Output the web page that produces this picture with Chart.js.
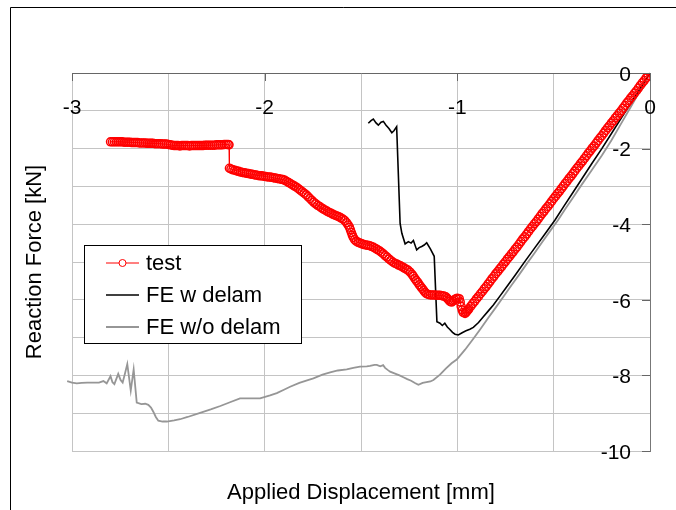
<!DOCTYPE html>
<html><head><meta charset="utf-8">
<script src="https://cdn.jsdelivr.net/npm/chart.js@4.4.1/dist/chart.umd.min.js"></script>
<style>html,body{margin:0;padding:0;background:#fff;overflow:hidden;} canvas{display:block;}</style>
</head><body>
<canvas id="c" width="676" height="510"></canvas>
<script>
// ---- data (x: displacement mm, y: reaction force kN) ----
const testPoints = [
[-2.80,-1.82],[-2.79,-1.82],[-2.78,-1.82],[-2.77,-1.82],[-2.76,-1.82],[-2.75,-1.82],[-2.74,-1.82],[-2.73,-1.83],
[-2.72,-1.83],[-2.71,-1.83],[-2.70,-1.83],[-2.69,-1.84],[-2.68,-1.84],[-2.67,-1.84],[-2.66,-1.84],[-2.65,-1.85],
[-2.64,-1.85],[-2.63,-1.85],[-2.62,-1.85],[-2.61,-1.86],[-2.60,-1.86],[-2.59,-1.86],[-2.58,-1.86],[-2.57,-1.87],
[-2.56,-1.87],[-2.55,-1.87],[-2.54,-1.87],[-2.53,-1.88],[-2.52,-1.88],[-2.51,-1.88],[-2.50,-1.89],[-2.49,-1.90],
[-2.48,-1.91],[-2.47,-1.92],[-2.46,-1.92],[-2.45,-1.92],[-2.44,-1.93],[-2.43,-1.92],[-2.42,-1.92],[-2.41,-1.92],
[-2.40,-1.92],[-2.39,-1.93],[-2.38,-1.92],[-2.37,-1.92],[-2.36,-1.92],[-2.35,-1.92],[-2.34,-1.92],[-2.33,-1.92],
[-2.32,-1.92],[-2.31,-1.91],[-2.30,-1.91],[-2.29,-1.91],[-2.28,-1.91],[-2.27,-1.91],[-2.26,-1.91],[-2.25,-1.90],
[-2.24,-1.90],[-2.23,-1.90],[-2.22,-1.90],[-2.21,-1.89],[-2.20,-1.89],[-2.19,-1.89],[-2.185,-1.90],
[-2.183,-2.52],[-2.175,-2.54],[-2.165,-2.56],[-2.155,-2.57],[-2.145,-2.59],[-2.135,-2.60],[-2.125,-2.62],[-2.115,-2.63],
[-2.105,-2.64],[-2.095,-2.65],[-2.085,-2.66],[-2.075,-2.67],[-2.065,-2.68],[-2.055,-2.69],[-2.045,-2.70],[-2.035,-2.71],
[-2.025,-2.72],[-2.015,-2.72],[-2.005,-2.73],[-1.995,-2.74],[-1.985,-2.75],[-1.975,-2.75],[-1.965,-2.76],[-1.955,-2.77],
[-1.945,-2.78],[-1.935,-2.79],[-1.925,-2.80],[-1.915,-2.81],[-1.905,-2.82],[-1.895,-2.84],[-1.885,-2.87],[-1.875,-2.90],
[-1.865,-2.93],[-1.855,-2.96],[-1.845,-2.99],[-1.835,-3.02],[-1.825,-3.06],[-1.815,-3.10],[-1.805,-3.14],[-1.795,-3.18],
[-1.785,-3.22],[-1.775,-3.27],[-1.765,-3.32],[-1.755,-3.37],[-1.745,-3.42],[-1.735,-3.46],[-1.725,-3.50],[-1.715,-3.53],
[-1.705,-3.57],[-1.695,-3.60],[-1.685,-3.63],[-1.675,-3.66],[-1.665,-3.69],[-1.655,-3.71],[-1.645,-3.74],[-1.635,-3.76],
[-1.625,-3.78],[-1.615,-3.80],[-1.605,-3.83],[-1.595,-3.86],[-1.585,-3.90],[-1.575,-3.96],[-1.567,-4.02],[-1.56,-4.08],
[-1.555,-4.15],[-1.55,-4.22],[-1.545,-4.29],[-1.54,-4.35],[-1.533,-4.41],[-1.525,-4.45],[-1.515,-4.48],[-1.505,-4.50],
[-1.495,-4.52],[-1.485,-4.54],[-1.475,-4.55],[-1.465,-4.56],[-1.455,-4.57],[-1.445,-4.59],[-1.435,-4.61],[-1.425,-4.64],
[-1.415,-4.67],[-1.405,-4.70],[-1.395,-4.74],[-1.385,-4.78],[-1.375,-4.83],[-1.365,-4.87],[-1.355,-4.92],[-1.345,-4.96],
[-1.335,-5.00],[-1.325,-5.03],[-1.315,-5.05],[-1.305,-5.08],[-1.295,-5.10],[-1.285,-5.13],[-1.275,-5.16],[-1.265,-5.19],
[-1.255,-5.22],[-1.245,-5.27],[-1.235,-5.33],[-1.228,-5.38],[-1.22,-5.44],[-1.213,-5.49],[-1.205,-5.54],[-1.198,-5.60],
[-1.19,-5.65],[-1.183,-5.70],[-1.175,-5.75],[-1.168,-5.80],[-1.16,-5.84],[-1.15,-5.86],[-1.14,-5.87],[-1.13,-5.87],
[-1.12,-5.87],[-1.11,-5.88],[-1.10,-5.88],[-1.09,-5.88],[-1.08,-5.89],[-1.07,-5.90],[-1.06,-5.92],[-1.052,-5.96],
[-1.045,-6.00],[-1.038,-6.04],[-1.03,-6.06],[-1.022,-6.03],[-1.015,-6.00],[-1.007,-5.97],[-1.00,-5.96],[-0.99,-5.97],
[-0.985,-6.06],[-0.98,-6.18],[-0.975,-6.27],[-0.97,-6.33],[-0.96,-6.36],[-0.955,-6.33],[-0.95,-6.30],[-0.945,-6.27],
[-0.94,-6.24],[-0.93,-6.17],[-0.92,-6.10],[-0.91,-6.04],[-0.90,-5.97],[-0.89,-5.91],[-0.88,-5.84],[-0.87,-5.78],
[-0.86,-5.71],[-0.85,-5.65],[-0.84,-5.58],[-0.83,-5.51],[-0.82,-5.44],[-0.81,-5.38],[-0.80,-5.31],[-0.79,-5.25],
[-0.78,-5.18],[-0.77,-5.12],[-0.76,-5.05],[-0.75,-4.99],[-0.74,-4.92],[-0.73,-4.86],[-0.72,-4.79],[-0.71,-4.73],
[-0.70,-4.66],[-0.69,-4.60],[-0.68,-4.53],[-0.67,-4.46],[-0.66,-4.39],[-0.65,-4.33],[-0.64,-4.26],[-0.63,-4.19],
[-0.62,-4.12],[-0.61,-4.06],[-0.60,-3.99],[-0.59,-3.93],[-0.58,-3.86],[-0.57,-3.79],[-0.56,-3.72],[-0.55,-3.66],
[-0.54,-3.59],[-0.53,-3.53],[-0.52,-3.46],[-0.51,-3.39],[-0.50,-3.32],[-0.49,-3.26],[-0.48,-3.19],[-0.47,-3.13],
[-0.46,-3.06],[-0.45,-2.99],[-0.44,-2.92],[-0.43,-2.86],[-0.42,-2.79],[-0.41,-2.73],[-0.40,-2.66],[-0.39,-2.59],
[-0.38,-2.52],[-0.37,-2.46],[-0.36,-2.39],[-0.35,-2.33],[-0.34,-2.26],[-0.33,-2.19],[-0.32,-2.12],[-0.31,-2.06],
[-0.30,-1.99],[-0.29,-1.93],[-0.28,-1.86],[-0.27,-1.79],[-0.26,-1.72],[-0.25,-1.66],[-0.24,-1.59],[-0.23,-1.52],
[-0.22,-1.45],[-0.21,-1.39],[-0.20,-1.32],[-0.19,-1.26],[-0.18,-1.19],[-0.17,-1.13],[-0.16,-1.06],[-0.15,-1.00],
[-0.14,-0.93],[-0.13,-0.86],[-0.12,-0.79],[-0.11,-0.73],[-0.10,-0.66],[-0.09,-0.60],[-0.08,-0.53],[-0.07,-0.47],
[-0.06,-0.40],[-0.05,-0.33],[-0.04,-0.26],[-0.03,-0.20],[-0.02,-0.13],[-0.01,-0.07],[0,0]
];
const feDelamPoints = [
[-1.462,-1.33],[-1.448,-1.26],[-1.436,-1.22],[-1.422,-1.32],[-1.41,-1.38],[-1.396,-1.30],[-1.384,-1.28],[-1.37,-1.38],
[-1.355,-1.47],[-1.34,-1.58],[-1.328,-1.52],[-1.315,-1.42],[-1.297,-3.98],[-1.288,-4.24],[-1.271,-4.52],[-1.254,-4.46],
[-1.24,-4.50],[-1.228,-4.43],[-1.211,-4.68],[-1.198,-4.62],[-1.185,-4.59],[-1.172,-4.55],[-1.159,-4.49],[-1.14,-4.65],
[-1.12,-4.85],[-1.106,-6.58],[-1.09,-6.62],[-1.078,-6.68],[-1.065,-6.62],[-1.052,-6.72],[-1.04,-6.78],[-1.025,-6.86],
[-1.012,-6.91],[-0.995,-6.93],[-0.975,-6.87],[-0.955,-6.82],[-0.935,-6.78],[-0.917,-6.73],[-0.89,-6.60],[-0.865,-6.45],
[-0.84,-6.30],[-0.813,-6.14],[-0.78,-5.91],[-0.75,-5.70],[-0.70,-5.35],[-0.65,-4.99],[-0.60,-4.64],[-0.55,-4.29],
[-0.493,-3.89],[-0.45,-3.55],[-0.40,-3.16],[-0.35,-2.77],[-0.30,-2.38],[-0.25,-2.00],[-0.20,-1.60],[-0.15,-1.20],
[-0.10,-0.80],[-0.05,-0.40],[0,0]
];
const feNoDelamPoints = [
[-3.025,-8.15],[-3.0,-8.19],[-2.975,-8.21],[-2.95,-8.20],[-2.92,-8.19],[-2.889,-8.19],[-2.86,-8.19],[-2.837,-8.15],
[-2.82,-8.21],[-2.80,-8.02],[-2.79,-8.18],[-2.78,-8.23],[-2.76,-7.96],[-2.748,-8.12],[-2.737,-8.19],[-2.725,-7.95],
[-2.713,-7.70],[-2.695,-8.40],[-2.68,-7.84],[-2.664,-8.72],[-2.64,-8.76],[-2.62,-8.75],[-2.604,-8.78],[-2.59,-8.85],
[-2.578,-8.96],[-2.565,-9.10],[-2.552,-9.20],[-2.53,-9.22],[-2.508,-9.22],[-2.47,-9.19],[-2.439,-9.16],[-2.40,-9.10],
[-2.335,-8.99],[-2.28,-8.90],[-2.23,-8.81],[-2.18,-8.71],[-2.128,-8.61],[-2.08,-8.61],[-2.024,-8.61],[-1.972,-8.53],
[-1.937,-8.47],[-1.90,-8.38],[-1.868,-8.30],[-1.82,-8.20],[-1.78,-8.13],[-1.747,-8.08],[-1.70,-7.98],[-1.66,-7.92],
[-1.62,-7.87],[-1.574,-7.84],[-1.54,-7.80],[-1.505,-7.77],[-1.47,-7.76],[-1.453,-7.75],[-1.43,-7.72],[-1.418,-7.72],
[-1.40,-7.76],[-1.385,-7.73],[-1.375,-7.80],[-1.36,-7.86],[-1.349,-7.90],[-1.32,-7.96],[-1.30,-8.00],[-1.28,-8.05],
[-1.26,-8.10],[-1.24,-8.14],[-1.22,-8.20],[-1.202,-8.25],[-1.18,-8.20],[-1.16,-8.18],[-1.14,-8.16],[-1.124,-8.12],
[-1.09,-7.98],[-1.06,-7.82],[-1.03,-7.68],[-1.003,-7.58],[-0.96,-7.32],[-0.917,-7.03],[-0.88,-6.77],[-0.84,-6.48],
[-0.80,-6.20],[-0.76,-5.91],[-0.72,-5.62],[-0.68,-5.34],[-0.64,-5.05],[-0.60,-4.77],[-0.56,-4.48],[-0.52,-4.19],
[-0.477,-3.89],[-0.44,-3.60],[-0.40,-3.30],[-0.35,-2.92],[-0.30,-2.55],[-0.25,-2.18],[-0.20,-1.78],[-0.15,-1.34],
[-0.10,-0.90],[-0.05,-0.45],[0,0]
];
const seriesNames = ['test', 'FE w delam', 'FE w/o delam'];
const xTickValues = [-3, -2, -1, 0];
const xTickLabels = ['-3', '-2', '-1', '0'];
const yTickValues = [0, -2, -4, -6, -8, -10];
const yTickLabels = ['0', '-2', '-4', '-6', '-8', '-10'];
const xTitle = 'Applied Displacement [mm]';
const yTitle = 'Reaction Force [kN]';

const FONT = '"Liberation Sans", Arial, sans-serif';
const toXY = arr => arr.map(p => ({x: p[0], y: p[1]}));

const decor = {
  id: 'decor',
  beforeDraw(chart) {
    const ctx = chart.ctx;
    ctx.save();
    ctx.fillStyle = '#fff';
    ctx.fillRect(0, 0, chart.width, chart.height);
    ctx.strokeStyle = '#000';
    ctx.lineWidth = 1;
    ctx.beginPath();
    ctx.moveTo(10.5, chart.height);
    ctx.lineTo(10.5, 7.5);
    ctx.lineTo(chart.width, 7.5);
    ctx.stroke();
    ctx.restore();
  },
  afterDraw(chart) {
    const {ctx, chartArea: a, scales: {x, y}} = chart;
    ctx.save();
    ctx.strokeStyle = '#666';
    ctx.lineWidth = 1;
    xTickValues.forEach(v => {
      const px = Math.round(x.getPixelForValue(v)) + 0.5;
      ctx.beginPath(); ctx.moveTo(px, a.top); ctx.lineTo(px, a.top + 8); ctx.stroke();
    });
    yTickValues.forEach(v => {
      const py = Math.round(y.getPixelForValue(v)) + 0.5;
      ctx.beginPath(); ctx.moveTo(a.right - 8, py); ctx.lineTo(a.right, py); ctx.stroke();
    });
    ctx.fillStyle = '#000';
    ctx.font = '21px ' + FONT;
    ctx.textAlign = 'center';
    ctx.textBaseline = 'middle';
    xTickValues.forEach((v, i) => {
      ctx.fillText(xTickLabels[i], x.getPixelForValue(v), a.top + 35);
    });
    ctx.textAlign = 'right';
    yTickValues.forEach((v, i) => {
      ctx.fillText(yTickLabels[i], a.right - 19, y.getPixelForValue(v) + 2);
    });
    ctx.font = '22px ' + FONT;
    ctx.textAlign = 'center';
    ctx.fillText(xTitle, (a.left + a.right) / 2, 493);
    ctx.save();
    ctx.translate(35, (a.top + a.bottom) / 2);
    ctx.rotate(-Math.PI / 2);
    ctx.fillText(yTitle, 0, 0);
    ctx.restore();
    const lx = 84.5, ly = 245.5, lw = 217, lh = 98;
    ctx.fillStyle = '#fff';
    ctx.fillRect(lx, ly, lw, lh);
    ctx.strokeStyle = '#000';
    ctx.lineWidth = 1;
    ctx.strokeRect(lx, ly, lw, lh);
    const rows = [263, 295, 327];
    chart.data.datasets.forEach((ds, i) => {
      const yy = rows[i];
      ctx.strokeStyle = ds.borderColor;
      ctx.lineWidth = ds.borderWidth;
      ctx.beginPath(); ctx.moveTo(106, yy); ctx.lineTo(139, yy); ctx.stroke();
      if (ds.pointRadius > 0) {
        ctx.lineWidth = 1;
        ctx.fillStyle = '#fff';
        ctx.beginPath(); ctx.arc(122.5, yy, 3.5, 0, Math.PI * 2); ctx.fill(); ctx.stroke();
      }
      ctx.fillStyle = '#000';
      ctx.font = '22px ' + FONT;
      ctx.textAlign = 'left';
      ctx.fillText(seriesNames[i], 146, yy + 1);
    });
    ctx.restore();
  }
};

new Chart(document.getElementById('c'), {
  type: 'scatter',
  data: {
    datasets: [
      {label: seriesNames[0], data: toXY(testPoints), showLine: true, borderColor: '#ff0000', borderWidth: 1,
       pointRadius: 4, pointBorderWidth: 1.5, pointBorderColor: '#ff0000', pointBackgroundColor: 'rgba(255,255,255,0)'},
      {label: seriesNames[1], data: toXY(feDelamPoints), showLine: true, borderColor: '#000000', borderWidth: 1.6,
       pointRadius: 0},
      {label: seriesNames[2], data: toXY(feNoDelamPoints), showLine: true, borderColor: '#969696', borderWidth: 1.8,
       pointRadius: 0, clip: false}
    ]
  },
  options: {
    responsive: false,
    animation: false,
    devicePixelRatio: 1,
    layout: {padding: {left: 72, top: 73, right: 26, bottom: 59}},
    plugins: {legend: {display: false}, tooltip: {enabled: false}},
    scales: {
      x: {
        type: 'linear', position: 'top', min: -3, max: 0,
        ticks: {display: false, stepSize: 0.5},
        grid: {color: '#c4c4c4', lineWidth: 1, drawTicks: false},
        border: {display: true, color: '#666', width: 1}
      },
      y: {
        type: 'linear', position: 'right', min: -10, max: 0,
        ticks: {display: false, stepSize: 1},
        grid: {color: '#c4c4c4', lineWidth: 1, drawTicks: false},
        border: {display: true, color: '#777', width: 1}
      }
    }
  },
  plugins: [decor]
});
</script>
</body></html>
